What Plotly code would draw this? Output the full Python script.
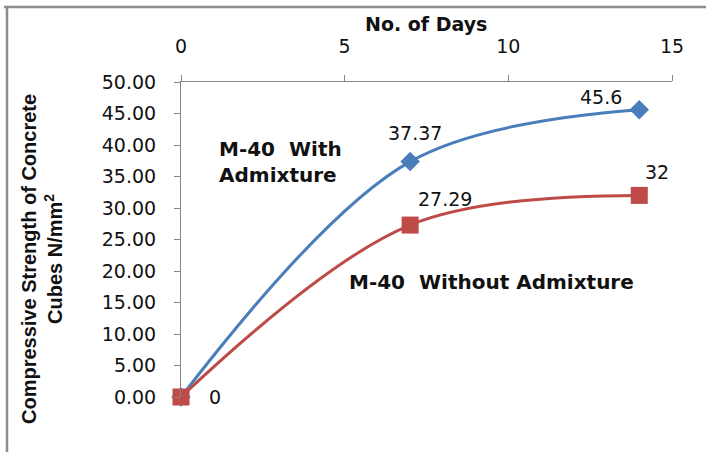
import plotly.graph_objects as go

# Curing age (days) and cube compressive strength (N/mm^2)
days = [0, 7, 14]
with_admixture = [0, 37.37, 45.6]
without_admixture = [0, 27.29, 32]

x_ticks = [0, 5, 10, 15]
y_ticks = [0, 5, 10, 15, 20, 25, 30, 35, 40, 45, 50]

BLUE = "#4A7EBB"
RED = "#BE4B48"
AXIS = "#868686"
FONT = "DejaVu Sans"

W, H = 706, 452
L, R, T, B = 181, 34, 82, 55  # plot area margins in px
PW, PH = W - L - R, H - T - B


def px_to_paper(px, py):
    return (px - L) / PW, (H - B - py) / PH


fig = go.Figure()

fig.add_trace(go.Scatter(
    x=days, y=with_admixture, mode="lines+markers", name="M-40 With Admixture",
    line=dict(color=BLUE, width=3, shape="spline", smoothing=1.0),
    marker=dict(symbol="diamond", size=15, color=BLUE),
    cliponaxis=False,
))
fig.add_trace(go.Scatter(
    x=days, y=without_admixture, mode="lines+markers", name="M-40 Without Admixture",
    line=dict(color=RED, width=3, shape="spline", smoothing=1.0),
    marker=dict(symbol="square", size=17, color=RED),
    cliponaxis=False,
))

# Value labels next to the points (offsets in px)
label_font = dict(family=FONT, size=19, color="#111111")
blue_offsets = [None, (5, 29), (-38, 13)]
red_offsets = [(34, 0), (35, 26), (18, 23)]
for xs, ys, offs in ((days, with_admixture, blue_offsets), (days, without_admixture, red_offsets)):
    for xv, yv, off in zip(xs, ys, offs):
        if off is None:
            continue
        fig.add_annotation(x=xv, y=yv, xref="x", yref="y", text=f"{yv:g}",
                           showarrow=False, xshift=off[0], yshift=off[1],
                           font=label_font, xanchor="center", yanchor="middle")

# Series names written on the chart
bold_font = dict(family=FONT, size=20, color="#111111", weight="bold")
ax, ay = px_to_paper(217, 162)
fig.add_annotation(x=ax, y=ay, xref="paper", yref="paper", text="M-40  With<br>Admixture",
                   showarrow=False, align="left", xanchor="left", yanchor="middle",
                   font=bold_font)
ax, ay = px_to_paper(347, 282)
fig.add_annotation(x=ax, y=ay, xref="paper", yref="paper", text="M-40  Without Admixture",
                   showarrow=False, xanchor="left", yanchor="middle", font=bold_font)

# Axis titles
ax, ay = px_to_paper(426, 24)
fig.add_annotation(x=ax, y=ay, xref="paper", yref="paper", text="No. of Days",
                   showarrow=False, xanchor="center", yanchor="middle",
                   font=dict(family=FONT, size=19, color="#111111", weight="bold"))
ax, ay = px_to_paper(42, 259)
fig.add_annotation(x=ax, y=ay, xref="paper", yref="paper",
                   text="<b>Compressive Strength of Concrete<br>Cubes N/mm<sup>2</sup></b>",
                   showarrow=False, textangle=-90, xanchor="center", yanchor="middle",
                   font=dict(family="Liberation Sans, Arial, sans-serif",
                             size=20, color="#111111"))

# Chart frame (top and left edges)
x0, y0 = px_to_paper(7, 7)
x1, _ = px_to_paper(W + 5, 7)
_, y1 = px_to_paper(7, H + 5)
fig.add_shape(type="line", xref="paper", yref="paper", x0=px_to_paper(4, 7)[0], y0=y0, x1=x1, y1=y0,
              line=dict(color="#8C8C8C", width=2.5))
fig.add_shape(type="line", xref="paper", yref="paper", x0=x0, y0=y0, x1=x0, y1=y1,
              line=dict(color="#8C8C8C", width=2.5))

fig.update_layout(
    width=W, height=H,
    margin=dict(l=L, r=R, t=T, b=B),
    paper_bgcolor="white", plot_bgcolor="white",
    showlegend=False,
    xaxis=dict(side="top", range=[0, 15], tickvals=x_ticks, ticktext=[str(v) for v in x_ticks],
               showgrid=False, zeroline=False, showline=True, linecolor=AXIS, linewidth=1,
               ticks="outside", ticklen=6, tickcolor=AXIS, ticklabelstandoff=14,
               tickfont=dict(family=FONT, size=19, color="#111111")),
    yaxis=dict(range=[0, 50], tickvals=y_ticks, ticktext=[f"{v:.2f}" for v in y_ticks],
               showgrid=False, zeroline=False, showline=True, linecolor=AXIS, linewidth=1,
               ticks="outside", ticklen=6, tickcolor=AXIS, ticklabelstandoff=14,
               tickfont=dict(family=FONT, size=19, color="#111111")),
)

fig.write_html("out.html")
